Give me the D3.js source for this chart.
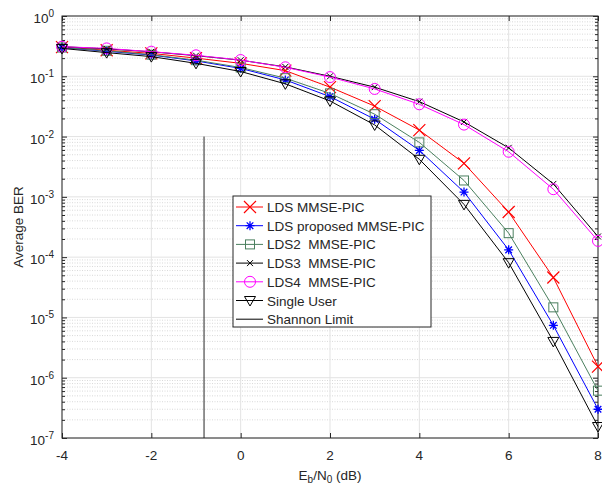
<!DOCTYPE html>
<html><head><meta charset="utf-8">
<script src="https://cdn.jsdelivr.net/npm/d3@7"></script>
<style>
body{margin:0;background:#fff;}
text{font-family:"Liberation Sans",Arial,Helvetica,sans-serif;fill:#262626;white-space:pre;}
</style></head>
<body>
<svg id="c" width="602" height="487"></svg>
<script>
const xs = [-4,-3,-2,-1,0,1,2,3,4,5,6,7,8];
const ldsMmse    = [0.305,0.27,0.24,0.20,0.164,0.124,0.066,0.032,0.0128,0.0036,5.6e-4,4.6e-5,1.53e-6];
const ldsProp    = [0.30,0.26,0.225,0.18,0.135,0.087,0.046,0.0194,0.0059,0.0012,1.32e-4,7.4e-6,3.0e-7];
const lds2       = [0.30,0.265,0.228,0.185,0.14,0.093,0.052,0.0235,0.008,0.00187,2.5e-4,1.47e-5,6.1e-7];
const lds3       = [0.31,0.285,0.255,0.22,0.185,0.143,0.10,0.066,0.038,0.0175,0.0065,1.64e-3,2.2e-4];
const lds4       = [0.31,0.29,0.256,0.223,0.186,0.141,0.097,0.0617,0.0343,0.0158,0.0056,1.34e-3,1.86e-4];
const singleUser = [0.29,0.247,0.212,0.164,0.12,0.075,0.039,0.0156,0.0042,7.5e-4,8.1e-5,4.0e-6,1.55e-7];
const shannonX = [-0.82,-0.82];
const shannonY = [1e-7,1e-2];
const xTicks = [-4,-2,0,2,4,6,8];
const yExps = [0,-1,-2,-3,-4,-5,-6,-7];
const legendNames = ["LDS MMSE-PIC","LDS proposed MMSE-PIC","LDS2  MMSE-PIC","LDS3  MMSE-PIC","LDS4  MMSE-PIC","Single User","Shannon Limit"];

const svg = d3.select("#c");
const L=62,R=598,T=16,B=438;
const x = d3.scaleLinear().domain([-4,8]).range([L,R]);
const y = d3.scaleLog().domain([1e-7,1]).range([B,T]);

// grid
const g = svg.append("g");
const minors=[];
for(let e=-7;e<0;e++) for(let k=2;k<=9;k++) minors.push(k*Math.pow(10,e));
g.selectAll(".mg").data(minors).enter().append("line")
 .attr("x1",L).attr("x2",R).attr("y1",d=>y(d)).attr("y2",d=>y(d))
 .attr("stroke","#cfcfcf").attr("stroke-width",0.8).attr("stroke-dasharray","1,1.5");
g.selectAll(".gy").data(yExps.map(e=>Math.pow(10,e))).enter().append("line")
 .attr("x1",L).attr("x2",R).attr("y1",d=>y(d)).attr("y2",d=>y(d))
 .attr("stroke","#e3e3e3").attr("stroke-width",1);
g.selectAll(".gx").data(xTicks).enter().append("line")
 .attr("x1",d=>x(d)).attr("x2",d=>x(d)).attr("y1",T).attr("y2",B)
 .attr("stroke","#e3e3e3").attr("stroke-width",1);

// axes with inward ticks
const ax = svg.append("g");
ax.append("g").attr("transform",`translate(0,${B})`)
 .call(d3.axisBottom(x).tickValues(xTicks).tickSize(-5).tickFormat(""));
ax.append("g").attr("transform",`translate(0,${T})`)
 .call(d3.axisTop(x).tickValues(xTicks).tickSize(-5).tickFormat(""));
ax.append("g").attr("transform",`translate(${L},0)`)
 .call(d3.axisLeft(y).tickValues(yExps.map(e=>Math.pow(10,e))).tickSize(-5).tickFormat(""));
ax.append("g").attr("transform",`translate(${R},0)`)
 .call(d3.axisRight(y).tickValues(yExps.map(e=>Math.pow(10,e))).tickSize(-5).tickFormat(""));
ax.append("g").attr("transform",`translate(${L},0)`)
 .call(d3.axisLeft(y).tickValues(minors).tickSize(-3).tickFormat(""));
ax.append("g").attr("transform",`translate(${R},0)`)
 .call(d3.axisRight(y).tickValues(minors).tickSize(-3).tickFormat(""));
ax.selectAll(".domain").remove();
ax.selectAll("line").attr("stroke","#262626").attr("stroke-width",1);
svg.append("rect").attr("x",L).attr("y",T).attr("width",R-L).attr("height",B-T)
 .attr("fill","none").attr("stroke","#262626").attr("stroke-width",1);

// tick labels
svg.selectAll(".xl").data(xTicks).enter().append("text")
 .attr("x",d=>x(d)).attr("y",B+22).attr("text-anchor","middle").attr("font-size",13.5).text(d=>d);
const yt = svg.selectAll(".yl").data(yExps).enter().append("text")
 .attr("x",L-8).attr("y",d=>y(Math.pow(10,d))+7).attr("text-anchor","end").attr("font-size",13.5);
yt.append("tspan").text("10");
yt.append("tspan").attr("dy",-6).attr("font-size",10).text(d=>d);

// axis labels
const xlab = svg.append("text").attr("x",(L+R)/2).attr("y",480).attr("text-anchor","middle").attr("font-size",13.5);
xlab.append("tspan").text("E");
xlab.append("tspan").attr("dy",3).attr("font-size",10).text("b");
xlab.append("tspan").attr("dy",-3).text("/N");
xlab.append("tspan").attr("dy",3).attr("font-size",10).text("0");
xlab.append("tspan").attr("dy",-3).text(" (dB)");
svg.append("text").attr("transform",`translate(23,${(T+B)/2}) rotate(-90)`)
 .attr("text-anchor","middle").attr("font-size",13.5).text("Average BER");

// markers
function marker(sel,type,color){
  if(type==="x"){ sel.append("path").attr("d","M-6,-6L6,6M-6,6L6,-6").attr("stroke",color).attr("stroke-width",1.2).attr("fill","none"); }
  else if(type==="xs"){ sel.append("path").attr("d","M-3,-3L3,3M-3,3L3,-3").attr("stroke",color).attr("stroke-width",1).attr("fill","none"); }
  else if(type==="star"){ sel.append("path").attr("d","M-4.5,0L4.5,0M0,-4.5L0,4.5M-3.3,-3.3L3.3,3.3M-3.3,3.3L3.3,-3.3").attr("stroke",color).attr("stroke-width",1.3).attr("fill","none"); }
  else if(type==="sq"){ sel.append("rect").attr("x",-4.5).attr("y",-4.5).attr("width",9).attr("height",9).attr("stroke",color).attr("fill","none").attr("stroke-width",1); }
  else if(type==="o"){ sel.append("circle").attr("r",5.5).attr("stroke",color).attr("fill","none").attr("stroke-width",1); }
  else if(type==="v"){ sel.append("path").attr("d","M-5.5,-4L5.5,-4L0,5.5Z").attr("stroke",color).attr("fill","none").attr("stroke-width",1); }
}
const series = [
 {name:legendNames[0],vals:ldsMmse,color:"#ff0000",m:"x"},
 {name:legendNames[1],vals:ldsProp,color:"#0000ff",m:"star"},
 {name:legendNames[2],vals:lds2,color:"#4a7f5e",m:"sq"},
 {name:legendNames[3],vals:lds3,color:"#000000",m:"xs"},
 {name:legendNames[4],vals:lds4,color:"#ff00ff",m:"o"},
 {name:legendNames[5],vals:singleUser,color:"#000000",m:"v"}
];
const line = d3.line().x(d=>x(d[0])).y(d=>y(d[1]));
const plot = svg.append("g");
series.forEach(s=>{
  const pts = xs.map((v,i)=>[v,s.vals[i]]);
  plot.append("path").attr("d",line(pts)).attr("fill","none").attr("stroke",s.color).attr("stroke-width",1);
  pts.forEach(p=>{ marker(plot.append("g").attr("transform",`translate(${x(p[0])},${y(p[1])})`),s.m,s.color); });
});
plot.append("path").attr("d",line(shannonX.map((v,i)=>[v,shannonY[i]]))).attr("stroke","#262626").attr("stroke-width",1).attr("fill","none");

// legend
const lg = svg.append("g");
lg.append("rect").attr("x",233).attr("y",196).attr("width",198).attr("height",131).attr("fill","#fff").attr("stroke","#262626").attr("stroke-width",1);
const items = series.map(s=>({name:s.name,color:s.color,m:s.m})).concat([{name:legendNames[6],color:"#000000",m:null}]);
items.forEach((it,i)=>{
  const cy = 207+i*18.7;
  lg.append("line").attr("x1",236).attr("x2",263).attr("y1",cy).attr("y2",cy).attr("stroke",it.color).attr("stroke-width",1);
  if(it.m) marker(lg.append("g").attr("transform",`translate(250,${cy})`),it.m,it.color);
  lg.append("text").attr("x",267).attr("y",cy+5).attr("font-size",13.5).attr("fill","#000").text(it.name);
});
</script>
</body></html>
